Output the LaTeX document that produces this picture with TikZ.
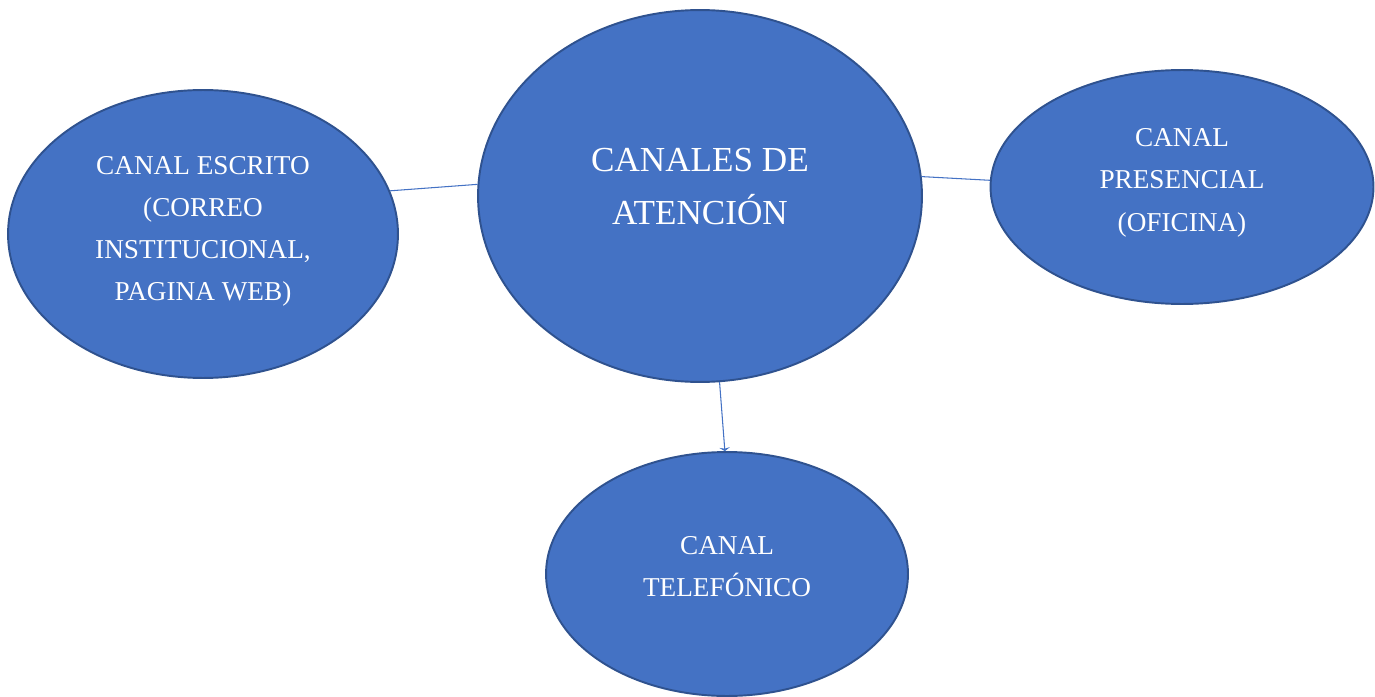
\documentclass[tikz,border=0pt]{standalone}
\usepackage{fontspec}
\setmainfont{Liberation Serif}
\usetikzlibrary{shapes.geometric,arrows.meta}
\definecolor{azul}{HTML}{4472C4}
\definecolor{azulborde}{HTML}{2F528F}
\tikzset{
  canal/.style = {ellipse, align=center, inner sep=0pt, fill=azul, draw=azulborde, line width=1.1pt, text=white, font=\fontsize{15.5}{24}\selectfont},
  canal_c/.style = {canal, font=\fontsize{20}{30}\selectfont},
  enlace/.style = {draw=azul, line width=0.6pt}
}
\begin{document}
\begin{tikzpicture}[x=0.02cm, y=-0.02cm]
\useasboundingbox (0,0) rectangle (1375,696);
\node [canal_c, minimum width=8.88cm, minimum height=7.44cm] (cen) at (700,196) {CANALES DE\\ATENCIÓN\\[-19pt]};
\node [canal, minimum width=7.8cm, minimum height=5.76cm] (izq) at (203,234) {CANAL ESCRITO\\(CORREO\\INSTITUCIONAL,\\PAGINA WEB)\\[-17.5pt]};
\node [canal, minimum width=7.66cm, minimum height=4.68cm] (der) at (1182,187) {CANAL\\PRESENCIAL\\(OFICINA)\\[-16pt]};
\node [canal, minimum width=7.24cm, minimum height=4.88cm] (inf) at (727,574) {CANAL\\TELEFÓNICO\\[-15pt]};
% conectores
\draw [enlace] (izq.13) -- (cen.177);
\draw [enlace] (cen.5) -- (der.178);
\draw [enlace, -{Stealth[length=2pt,width=6pt]}] (cen.276) -- (inf.91);
\end{tikzpicture}
\end{document}
